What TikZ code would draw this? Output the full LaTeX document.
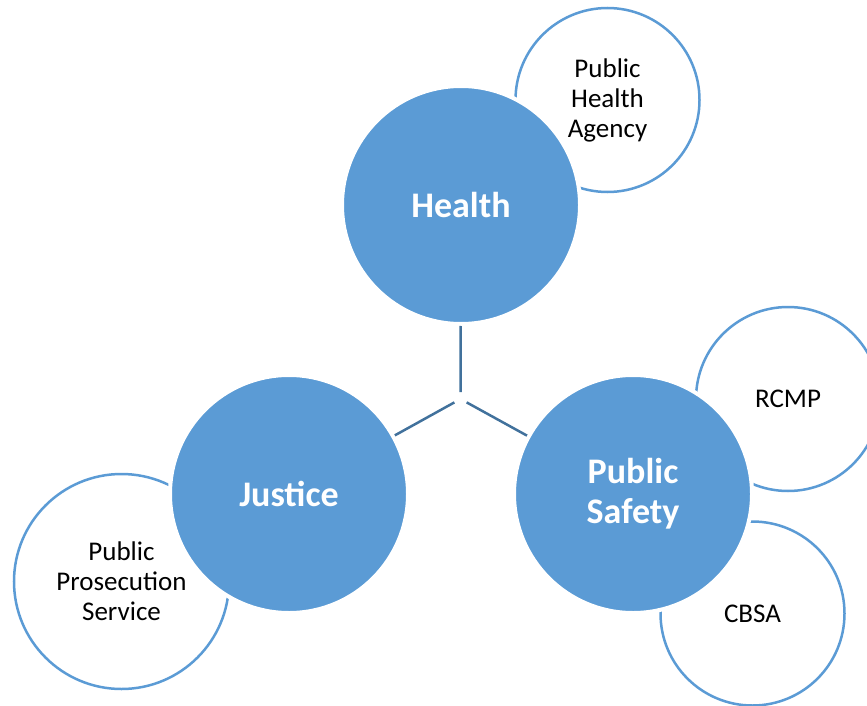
\documentclass[tikz,border=0pt]{standalone}
\usepackage{fontspec}
\setmainfont{Carlito}
\usetikzlibrary{positioning}
\definecolor{mainblue}{HTML}{5B9BD5}
\definecolor{linkblue}{HTML}{41719C}

\begin{document}
\begin{tikzpicture}[
  x=1pt, y=-1pt,
  main/.style={circle, fill=mainblue, draw=white, line width=4pt, minimum size=238pt, inner sep=0pt, text=white, align=center, font=\fontsize{36}{40}\selectfont\bfseries},
  sub/.style={circle, fill=white, draw=mainblue, line width=2.5pt, minimum size=184pt, inner sep=0pt, align=center, font=\fontsize{27}{30}\selectfont},
  link/.style={line width=2.5pt, draw=linkblue, shorten <=7pt}
]
  \useasboundingbox (0,0) rectangle (867,706);

  % Agencies (behind)
  \node[sub] (pha) at (607.5,100) {Public\\Health\\Agency};
  \node[sub] (rcmp) at (788,399) {RCMP};
  \node[sub] (cbsa) at (752.5,613.5) {CBSA};
  \node[sub, minimum size=215pt] (pps) at (121.5,581.5) {Public\\Prosecution\\Service};

  % Departments
  \coordinate (hub) at (460.5,399);
  \node[main] (health) at (461,205) {Health};
  \node[main] (justice) at (289,494) {Justice};
  \node[main] (safety) at (633,494) {Public\\Safety};

  % Links to the hub
  \draw[link] (hub) -- (health);
  \draw[link] (hub) -- (justice);
  \draw[link] (hub) -- (safety);
\end{tikzpicture}
\end{document}
